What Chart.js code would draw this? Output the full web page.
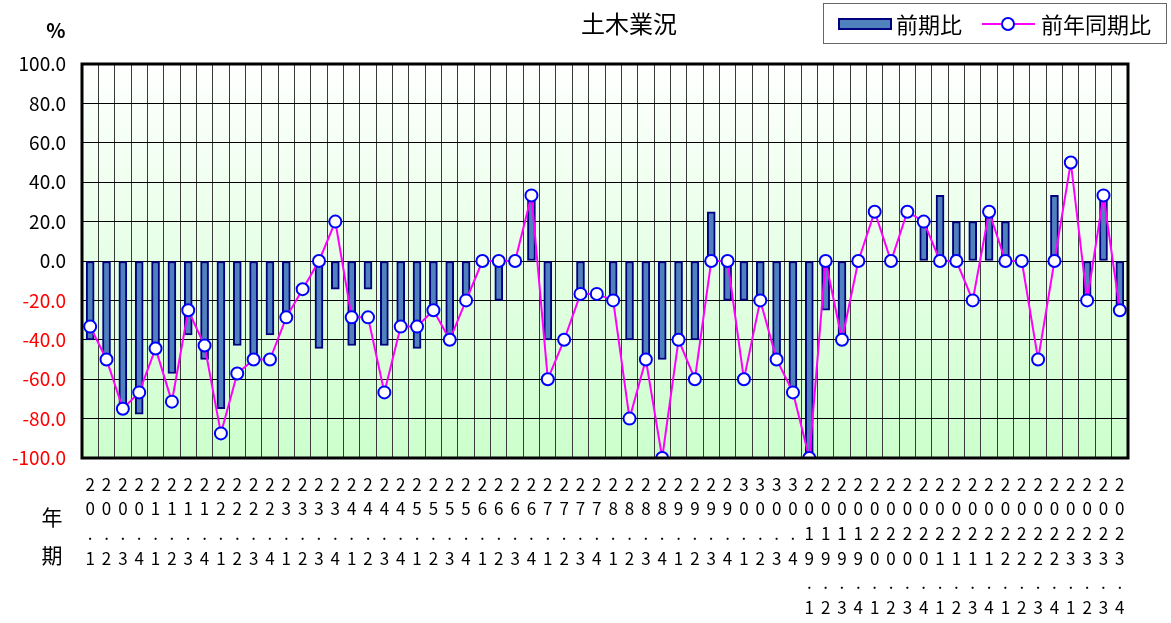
<!DOCTYPE html>
<html lang="ja">
<head>
<meta charset="utf-8">
<title>土木業況</title>
<script src="https://cdn.jsdelivr.net/npm/chart.js@4.4.1/dist/chart.umd.min.js"></script>
<style>
  html,body{margin:0;padding:0;background:#fff;}
  #wrap{position:relative;width:1171px;height:623px;}
</style>
</head>
<body>
<div id="wrap"><canvas id="chart" width="1171" height="623"></canvas></div>
<script>
// 期（平成20年1期〜30年4期、2019年1期〜2023年4期）
const categories = [
  "20.1","20.2","20.3","20.4","21.1","21.2","21.3","21.4",
  "22.1","22.2","22.3","22.4","23.1","23.2","23.3","23.4",
  "24.1","24.2","24.3","24.4","25.1","25.2","25.3","25.4",
  "26.1","26.2","26.3","26.4","27.1","27.2","27.3","27.4",
  "28.1","28.2","28.3","28.4","29.1","29.2","29.3","29.4",
  "30.1","30.2","30.3","30.4",
  "2019.1","2019.2","2019.3","2019.4","2020.1","2020.2","2020.3","2020.4",
  "2021.1","2021.2","2021.3","2021.4","2022.1","2022.2","2022.3","2022.4",
  "2023.1","2023.2","2023.3","2023.4"
];

// 前期比 (%)
const qoq = [
  -40, -50, -75, -77.8, -44.4, -57.1, -37.5, -50,
  -75, -42.9, -50, -37.5, -28.6, 0, -44.4, -14.3,
  -42.9, -14.3, -42.9, -33.3, -44.4, -25, -40, -20,
  0, -20, 0, 33.3, -40, 0, -16.7, 0,
  -20, -40, -50, -50, -40, -40, 25, -20,
  -20, -20, -50, -66.7,
  -100, -25, -40, 0, 0, 0, 0, 20,
  33.3, 20, 20, 25, 20, 0, 0, 33.3,
  0, -20, 33.3, -25
];

// 前年同期比 (%)
const yoy = [
  -33.3, -50, -75, -66.7, -44.4, -71.4, -25, -42.9,
  -87.5, -57.1, -50, -50, -28.6, -14.3, 0, 20,
  -28.6, -28.6, -66.7, -33.3, -33.3, -25, -40, -20,
  0, 0, 0, 33.3, -60, -40, -16.7, -16.7,
  -20, -80, -50, -100, -40, -60, 0, 0,
  -60, -20, -50, -66.7,
  -100, 0, -40, 0, 25, 0, 25, 20,
  0, 0, -20, 25, 0, 0, -50, 0,
  50, -20, 33.3, -25
];

const yTicks = [100, 80, 60, 40, 20, 0, -20, -40, -60, -80, -100];

const JP = '"Noto Sans CJK JP", "Noto Sans", sans-serif';

// 背景グラデーション（上:白 → 下:薄緑）
const bgPlugin = {
  id: "bg",
  beforeDraw(chart){
    const {ctx, chartArea:a} = chart;
    ctx.save();
    ctx.fillStyle = "#fff";
    ctx.fillRect(0, 0, chart.width, chart.height);
    const g = ctx.createLinearGradient(0, a.top, 0, a.bottom);
    g.addColorStop(0, "#ffffff");
    g.addColorStop(1, "#ccffcc");
    ctx.fillStyle = g;
    ctx.fillRect(a.left, a.top, a.right - a.left, a.bottom - a.top);
    ctx.restore();
  }
};

// 枠線・タイトル・凡例・軸の文字
const decoPlugin = {
  id: "deco",
  afterDraw(chart){
    const {ctx, chartArea:a} = chart;
    ctx.save();
    ctx.strokeStyle = "#000";
    ctx.lineWidth = 3;
    ctx.strokeRect(a.left, a.top, a.right - a.left, a.bottom - a.top);

    ctx.fillStyle = "#000";
    ctx.textAlign = "center";
    ctx.textBaseline = "middle";
    ctx.font = "24px " + JP;
    ctx.fillText("土木業況", 629, 24);
    ctx.font = "bold 20px " + JP;
    ctx.fillText("%", 56, 30);
    ctx.font = "21px " + JP;
    ctx.fillText("年", 52, 517);
    ctx.fillText("期", 52, 555);

    // 凡例
    const bar = chart.data.datasets[1], line = chart.data.datasets[0];
    ctx.fillStyle = "#fff";
    ctx.fillRect(823.5, 3.5, 343, 40);
    ctx.strokeStyle = "#666";
    ctx.lineWidth = 1;
    ctx.strokeRect(823.5, 3.5, 343, 40);

    ctx.fillStyle = bar.backgroundColor;
    ctx.strokeStyle = bar.borderColor;
    ctx.lineWidth = 2;
    ctx.fillRect(839, 19, 52, 10);
    ctx.strokeRect(839, 19, 52, 10);

    ctx.strokeStyle = line.borderColor;
    ctx.lineWidth = 2;
    ctx.beginPath(); ctx.moveTo(982, 24); ctx.lineTo(1035, 24); ctx.stroke();
    ctx.beginPath(); ctx.arc(1008, 24, 6, 0, Math.PI*2);
    ctx.fillStyle = "#fff"; ctx.fill();
    ctx.strokeStyle = line.pointBorderColor; ctx.stroke();

    ctx.fillStyle = "#000";
    ctx.textAlign = "left";
    ctx.font = "22px " + JP;
    ctx.fillText(bar.label, 896, 25);
    ctx.fillText(line.label, 1041, 25);
    ctx.restore();
  }
};

new Chart(document.getElementById("chart"), {
  type: "bar",
  data: {
    labels: categories,
    datasets: [
      {
        type: "line", label: "前年同期比", data: yoy, order: 1,
        borderColor: "#ff00ff", borderWidth: 2, tension: 0,
        pointRadius: 6, pointBackgroundColor: "#ffffff",
        pointBorderColor: "#0000ff", pointBorderWidth: 2
      },
      {
        type: "bar", label: "前期比", data: qoq, order: 2,
        backgroundColor: "#4f81bd", borderColor: "#000080",
        borderWidth: 2, barThickness: 8, borderSkipped: false
      }
    ]
  },
  options: {
    responsive: false,
    animation: false,
    layout: { padding: { top: 64, right: 43, bottom: 0, left: 0 } },
    plugins: { legend: { display: false }, tooltip: { enabled: false } },
    scales: {
      x: {
        offset: true,
        grid: { offset: true, color: "#3a3a3a", lineWidth: 1, drawTicks: false },
        border: { display: false },
        ticks: {
          autoSkip: false, maxRotation: 0, minRotation: 0, padding: 14,
          color: "#000", font: { family: JP, size: 17, lineHeight: 1.45 },
          callback(v){ return this.getLabelForValue(v).split(""); }
        },
        afterFit(s){ s.height = 165; }
      },
      y: {
        min: -100, max: 100,
        afterBuildTicks(s){ s.ticks = yTicks.map(v => ({ value: v })); },
        grid: { color: "#000", lineWidth: 1, drawTicks: false },
        border: { display: false },
        ticks: {
          padding: 16,
          font: { family: JP, size: 19 },
          color: c => c.tick.value < 0 ? "#ff0000" : "#000",
          callback: v => Number(v).toFixed(1)
        },
        afterFit(s){ s.width = 82; }
      }
    }
  },
  plugins: [bgPlugin, decoPlugin]
});
</script>
</body>
</html>
